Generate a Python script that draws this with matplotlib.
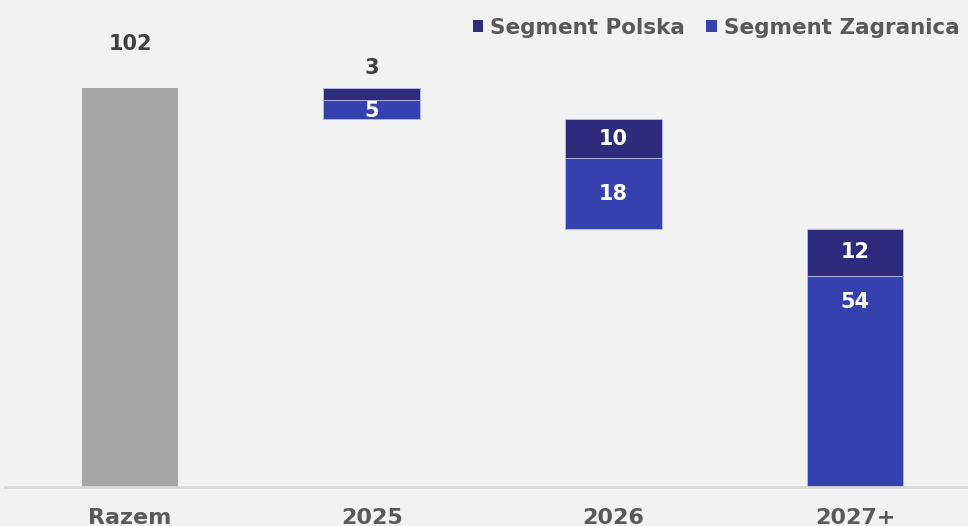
import matplotlib
matplotlib.use('Agg')
import matplotlib.pyplot as plt
import numpy as np
from matplotlib.patches import Patch

categories = ['Razem', '2025', '2026', '2027+']
total = 102
polska = [3, 10, 12]
zagranica = [5, 18, 54]

plt.rcParams['font.family'] = ['DejaVu Sans']

bg = '#f2f2f2'
c_total = '#a6a6a6'
c_pl = '#2e2a7c'
c_zg = '#3541ae'

fig = plt.figure(figsize=(9.68, 5.26), dpi=100, facecolor=bg)
ax = fig.add_axes([5 / 968, 39 / 526, 963 / 968, 450 / 526], facecolor=bg)

x = np.arange(len(categories))
w = 0.4

# total bar
ax.bar(x[0], total, width=w, color=c_total)
ax.text(x[0], total + 11.3, str(total), ha='center', va='center',
        fontsize=15, fontweight='bold', color='#404040')

# waterfall steps
level = total
for i, (p, z) in enumerate(zip(polska, zagranica)):
    xi = x[i + 1]
    ax.bar(xi, p, bottom=level - p, width=w, color=c_pl,
           edgecolor='#b8bce6', linewidth=0.6)
    ax.bar(xi, z, bottom=level - p - z, width=w, color=c_zg,
           edgecolor='#b8bce6', linewidth=0.6)
    if p < 5:
        ax.text(xi, level + 5, str(p), ha='center', va='center',
                fontsize=15, fontweight='bold', color='#404040')
        ax.text(xi, level - p - z / 2 - 0.3, str(z), ha='center', va='center',
                fontsize=15, fontweight='bold', color='white')
    else:
        ax.text(xi, level - p / 2, str(p), ha='center', va='center',
                fontsize=15, fontweight='bold', color='white')
        zy = level - p - (z / 2 if z < 30 else 6.7)
        ax.text(xi, zy, str(z), ha='center', va='center',
                fontsize=15, fontweight='bold', color='white')
    level = level - p - z

ax.set_xlim(-0.517, 3.467)
ax.set_ylim(0, 115)
ax.set_yticks([])
ax.set_xticks(x)
ax.set_xticklabels(categories, fontsize=16, fontweight='bold', color='#595959')
ax.tick_params(axis='x', length=0, pad=15)
for s in ['top', 'right', 'left']:
    ax.spines[s].set_visible(False)
ax.spines['bottom'].set_color('#d9d9d9')
ax.spines['bottom'].set_linewidth(2)

handles = [Patch(facecolor=c_pl, label='Segment Polska'),
           Patch(facecolor=c_zg, label='Segment Zagranica')]
leg = fig.legend(handles=handles, loc='upper right', bbox_to_anchor=(1.011, 1.003),
                 ncol=2, frameon=False, handlelength=0.5, handleheight=0.5,
                 handletextpad=0.3, columnspacing=1.0,
                 prop={'size': 15.5, 'weight': 'bold'})
for t in leg.get_texts():
    t.set_color('#595959')

fig.savefig('out.png', dpi=100, facecolor=bg)
